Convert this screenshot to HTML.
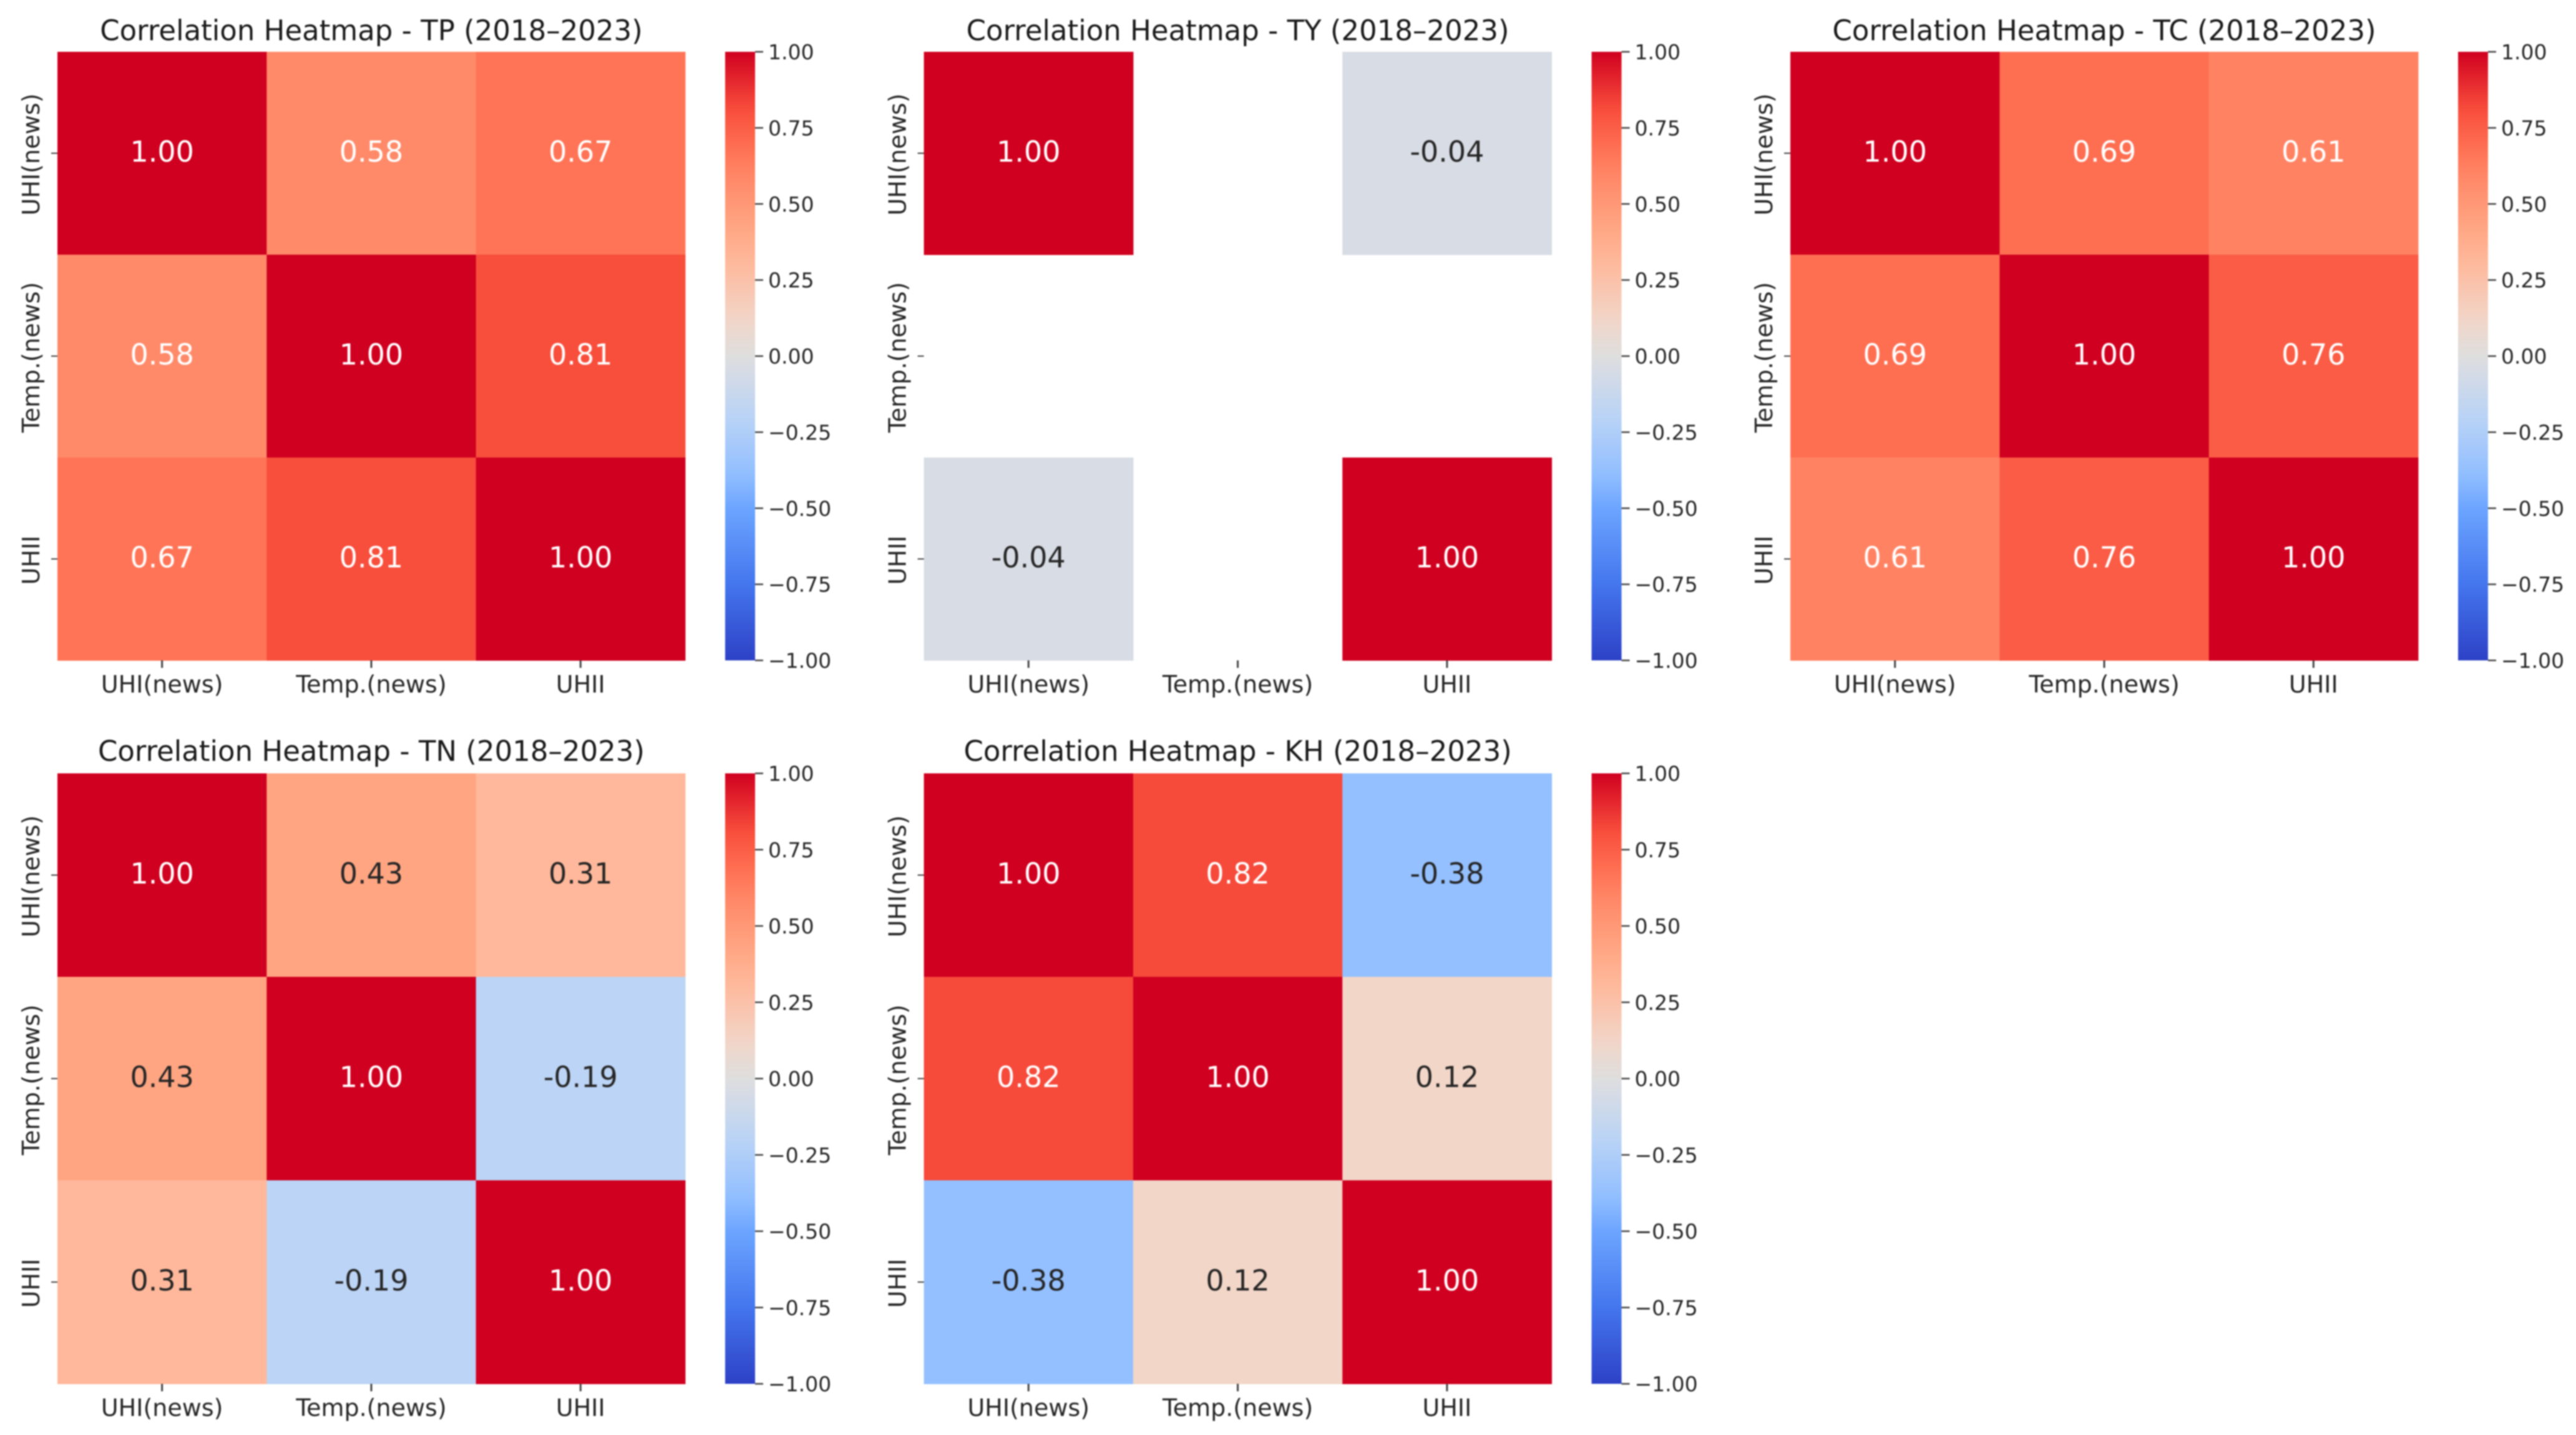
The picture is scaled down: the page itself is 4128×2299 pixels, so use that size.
<!DOCTYPE html>
<html lang="en">
<head>
<meta charset="utf-8">
<title>Correlation Heatmaps (2018–2023)</title>
<style>
  html, body { margin: 0; padding: 0; background: #fff; }
  #chart { display: block; width: 4128px; height: 2299px; filter: blur(1px); font-family: "DejaVu Sans", "Liberation Sans", sans-serif; }
</style>
</head>
<body>
<svg id="chart" xmlns="http://www.w3.org/2000/svg" width="4128" height="2299" viewBox="0 0 4128 2299">
  <defs><linearGradient id="cbar-gradient" x1="0" y1="0" x2="0" y2="1"></linearGradient></defs>
  <rect x="0" y="0" width="4128" height="2299" fill="#ffffff"></rect>
</svg>
<script>
const categories = ['UHI(news)', 'Temp.(news)', 'UHII'];
const panelNames = ['TP', 'TY', 'TC', 'TN', 'KH'];
const tpValues = [[1.00, 0.58, 0.67], [0.58, 1.00, 0.81], [0.67, 0.81, 1.00]];
const tyValues = [[1.00, null, -0.04], [null, null, null], [-0.04, null, 1.00]];
const tcValues = [[1.00, 0.69, 0.61], [0.69, 1.00, 0.76], [0.61, 0.76, 1.00]];
const tnValues = [[1.00, 0.43, 0.31], [0.43, 1.00, -0.19], [0.31, -0.19, 1.00]];
const khValues = [[1.00, 0.82, -0.38], [0.82, 1.00, 0.12], [-0.38, 0.12, 1.00]];
const panelValues = [tpValues, tyValues, tcValues, tnValues, khValues];
const colorbarTicks = [1.00, 0.75, 0.50, 0.25, 0.00, -0.25, -0.50, -0.75, -1.00];

const SVG_NS = 'http://www.w3.org/2000/svg';
const root = document.getElementById('chart');

function panelLeft(col) { return 92 + col * 1388.5; }
function panelTop(row) { return row === 0 ? 83 : 1239; }
function panelHeight(row) { return row === 0 ? 975 : 978; }
const PANEL_W = 1006;
function cellLeft(left, c) { return left + c * PANEL_W / categories.length; }
function cellTop(top, height, r) { return top + r * height / categories.length; }
function cbarY(v, top, height) { return top + (1 - v) / 2 * height; }

function colorScale(v) {
  const anchors = [
    [-1.00, 45, 65, 198], [-0.75, 68, 118, 238], [-0.50, 108, 165, 255], [-0.38, 148, 192, 255],
    [-0.19, 188, 212, 245], [-0.04, 216, 220, 228], [0.00, 222, 222, 222], [0.12, 242, 214, 200],
    [0.31, 255, 184, 155], [0.43, 255, 165, 130], [0.58, 255, 138, 105], [0.67, 255, 116, 86],
    [0.81, 248, 78, 60], [1.00, 208, 0, 32]
  ];
  const x = Math.max(-1, Math.min(1, v));
  for (let i = 1; i < anchors.length; i++) {
    if (x <= anchors[i][0]) {
      const a = anchors[i - 1], b = anchors[i];
      const t = (x - a[0]) / (b[0] - a[0]);
      const ch = k => Math.round(a[k] + (b[k] - a[k]) * t);
      return 'rgb(' + ch(1) + ',' + ch(2) + ',' + ch(3) + ')';
    }
  }
  return 'rgb(208,0,32)';
}
function annotColor(v) { return (v >= 0.5 || v <= -0.7) ? '#ffffff' : '#262626'; }

function mk(tag, attrs, parent, text) {
  const el = document.createElementNS(SVG_NS, tag);
  for (const k in attrs) el.setAttribute(k, attrs[k]);
  if (text !== undefined) el.textContent = text;
  parent.appendChild(el);
  return el;
}

const gradient = document.getElementById('cbar-gradient');
for (let s = 0; s <= 40; s++) {
  mk('stop', { offset: (s / 40), 'stop-color': colorScale(1 - s / 20) }, gradient);
}

panelValues.forEach(function (values, p) {
  const col = p % 3;
  const row = Math.floor(p / 3);
  const left = panelLeft(col);
  const top = panelTop(row);
  const height = panelHeight(row);
  const slug = panelNames[p].toLowerCase();

  const group = mk('g', {}, root);
  
  

  const title = mk('text', { x: left + PANEL_W / 2, y: top - (row === 0 ? 18.5 : 20), 'text-anchor': 'middle', 'font-size': 45, fill: '#1a1a1a' }, group,
    'Correlation Heatmap - ' + panelNames[p] + ' (2018\u20132023)');
  
  

  values.forEach(function (rowValues, r) {
    rowValues.forEach(function (v, c) {
      if (v === null) return;
      const x = cellLeft(left, c);
      const y = cellTop(top, height, r);
      const w = PANEL_W / categories.length;
      const h = height / categories.length;
      const cell = mk('rect', { x: x, y: y, width: w + 0.5, height: h + 0.5, fill: colorScale(v) }, group);
      
      
    });
  });

  values.forEach(function (rowValues, r) {
    rowValues.forEach(function (v, c) {
      if (v === null) return;
      const w = PANEL_W / categories.length;
      const h = height / categories.length;
      const label = mk('text', {
        x: cellLeft(left, c) + w / 2, y: cellTop(top, height, r) + h / 2 + 13.5,
        'text-anchor': 'middle', 'font-size': 46, fill: annotColor(v)
      }, group, v.toFixed(2));
      
      
    });
  });

  categories.forEach(function (name, i) {
    const w = PANEL_W / categories.length;
    const h = height / categories.length;
    const tx = cellLeft(left, i) + w / 2;
    const bottom = top + height;

    const xTick = mk('line', { x1: tx, x2: tx, y1: bottom, y2: bottom + 12, stroke: '#444', 'stroke-width': 3 }, group);
    
    

    const xLabel = mk('text', { x: tx, y: bottom + 51.5, 'text-anchor': 'middle', 'font-size': 38, fill: '#262626' }, group, name);
    
    

    const ty = cellTop(top, height, i) + h / 2;
    const yTick = mk('line', { x1: left - 10, x2: left, y1: ty, y2: ty, stroke: '#444', 'stroke-width': 2 }, group);
    
    

    const lx = left - 29;
    const ly = ty + 2;
    const yLabel = mk('text', {
      x: lx, y: ly, 'text-anchor': 'middle', 'font-size': 38, fill: '#262626',
      transform: 'rotate(-90 ' + lx + ' ' + ly + ')'
    }, group, name);
    
    
  });

  const cbarLeft = left + PANEL_W + 64;
  const cbar = mk('rect', { x: cbarLeft, y: top, width: 48, height: height, fill: 'url(#cbar-gradient)' }, group);
  
  

  colorbarTicks.forEach(function (t, i) {
    const y = cbarY(t, top, height);
    const tick = mk('line', { x1: cbarLeft + 48, x2: cbarLeft + 61, y1: y, y2: y, stroke: '#444', 'stroke-width': 2.5 }, group);
    
    

    const label = mk('text', { x: cbarLeft + 69, y: y + 12, 'font-size': 33, fill: '#262626' }, group,
      t.toFixed(2).replace('-', '\u2212'));
    
    
  });
});
</script>
</body>
</html>
